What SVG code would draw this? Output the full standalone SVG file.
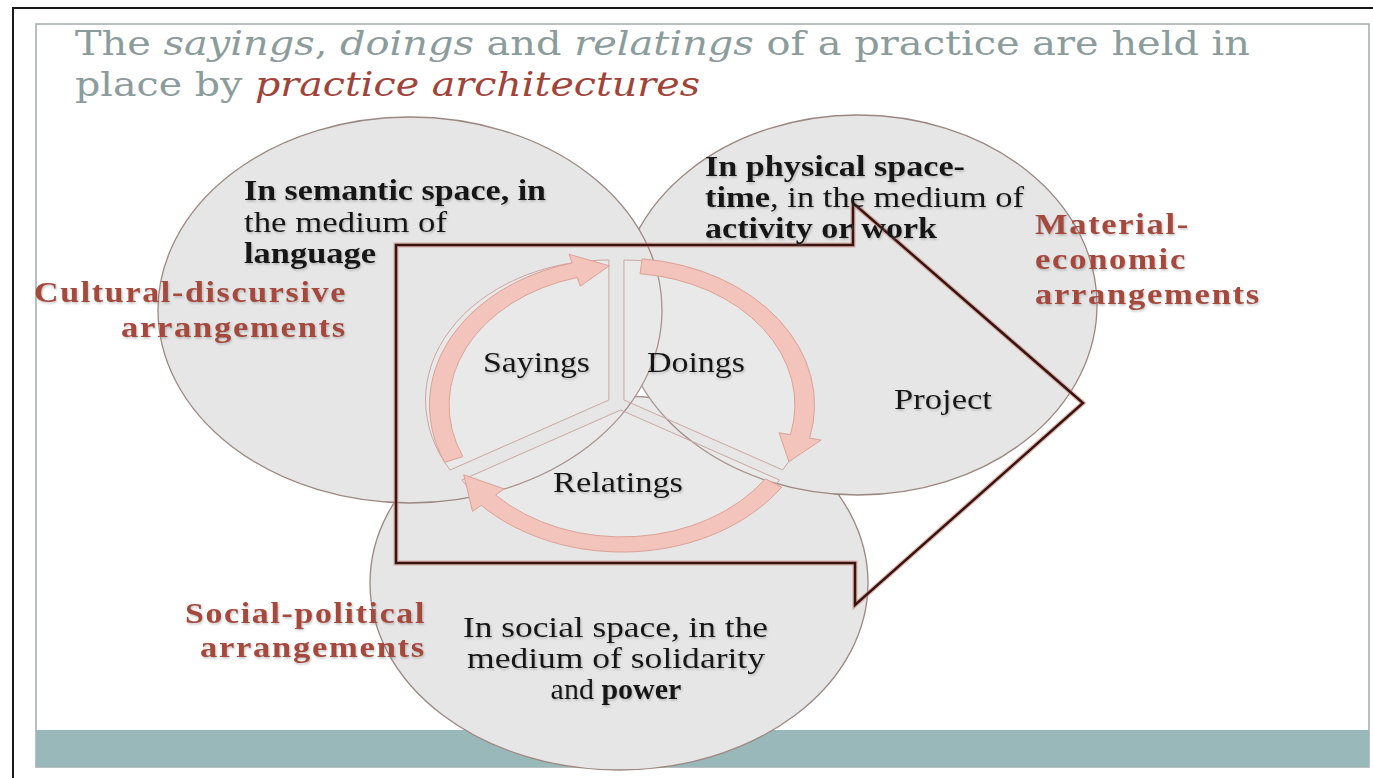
<svg xmlns="http://www.w3.org/2000/svg" width="1373" height="778" viewBox="0 0 1373 778">
<defs>
<style>
.frame{fill:none;stroke:#1a1a1a;stroke-width:2}
.inner{fill:#ffffff;stroke:#a3abab;stroke-width:1.5}
.band{fill:#98b8b9}
.circ{fill:#e6e6e6;stroke:#9d8781;stroke-width:1.3}
.wedge{fill:#ffffff;fill-opacity:0.12;stroke:#c9a7a1;stroke-width:1}
.arr{fill:#f3c4bb;stroke:#dca196;stroke-width:1}
.title{font-family:"DejaVu Serif","Liberation Serif",serif;font-size:34px;fill:#8b9c9c}
.title .it{font-style:italic}
.title .red{fill:#a2433a}
.blk{font-family:"Liberation Serif","Times New Roman",serif;font-size:30px;fill:#141414}
.b{font-weight:bold}
.lab{font-family:"Liberation Serif","Times New Roman",serif;font-size:29px;fill:#151515}
.arrl{font-family:"Liberation Serif","Times New Roman",serif;font-size:30px;font-weight:bold;letter-spacing:1.5px;fill:#a5483e}
</style>
<filter id="sh" x="-5%" y="-20%" width="110%" height="140%">
<feDropShadow dx="1" dy="1.5" stdDeviation="1" flood-color="#777" flood-opacity="0.45"/>
</filter>
</defs>

<g id="frame">
<rect class="inner" x="36" y="24" width="1333" height="743"/>
<rect class="band" x="36" y="730" width="1333" height="37"/>
<path class="frame" d="M13 778 V8 H1373"/>
</g>

<g id="title" class="title">
<text x="75" y="55" textLength="1175" lengthAdjust="spacingAndGlyphs">The <tspan class="it">sayings</tspan>, <tspan class="it">doings</tspan> and <tspan class="it">relatings</tspan> of a practice are held in</text>
<text x="75" y="96" textLength="625" lengthAdjust="spacingAndGlyphs">place by <tspan class="it red">practice architectures</tspan></text>
</g>

<g id="social-political">
<ellipse class="circ" cx="619" cy="583" rx="249" ry="187"/>
</g>
<g id="material-economic">
<ellipse class="circ" cx="858" cy="305" rx="239" ry="190"/>
</g>
<g id="cultural-discursive">
<ellipse class="circ" cx="410" cy="310" rx="252" ry="193"/>
</g>

<g id="cycle" transform="translate(622,405) scale(1.31,1)">
<g id="sayings-wedge"><path class="wedge" vector-effect="non-scaling-stroke" d="M-10,-5 L-131.2,65 A140,140 0 0 1 -10,-145 Z"/></g>
<g id="doings-wedge"><path class="wedge" vector-effect="non-scaling-stroke" d="M1.5,-5 L1.5,-145 A140,140 0 0 1 122.7,65 Z"/></g>
<g id="relatings-wedge"><path class="wedge" vector-effect="non-scaling-stroke" d="M-1,5 L120.2,75 A140,140 0 0 1 -122.2,75 Z"/></g>
<g id="connectors">
<path class="arr" vector-effect="non-scaling-stroke" d="M-135.3,57.4 A147,147 0 0 1 -38,-142 L-40.4,-150.7 L-9.7,-139.2 L-31.8,-118.8 L-34.2,-127.5 A132,132 0 0 0 -121.5,51.6 Z"/>
<path class="arr" vector-effect="non-scaling-stroke" d="M15.4,-146.2 A147,147 0 0 1 143.2,33.1 L152,35.1 L127.4,56.7 L119.9,27.7 L128.6,29.7 A132,132 0 0 0 13.8,-131.3 Z"/>
<path class="arr" vector-effect="non-scaling-stroke" d="M121.9,82.2 A147,147 0 0 1 -107.5,100.3 L-114.1,106.4 L-120.8,69.8 L-90,83.9 L-96.5,90 A132,132 0 0 0 109.4,73.8 Z"/>
</g>
</g>

<g id="project-arrow">
<path d="M396,245 H853 V203 L1083,403 L855,605 V563 H396 Z" fill="none" stroke="#c98d80" stroke-width="5" stroke-opacity="0.6"/>
<path d="M396,245 H853 V203 L1083,403 L855,605 V563 H396 Z" fill="none" stroke="#3a140f" stroke-width="2.5"/>
</g>

<g id="texts" filter="url(#sh)">
<text class="blk b" x="244" y="200" textLength="302" lengthAdjust="spacingAndGlyphs">In semantic space, in</text>
<text class="blk" x="244" y="232" textLength="203" lengthAdjust="spacingAndGlyphs">the medium of</text>
<text class="blk b" x="244" y="263" textLength="132" lengthAdjust="spacingAndGlyphs">language</text>

<text class="blk b" x="705" y="176" textLength="260" lengthAdjust="spacingAndGlyphs">In physical space-</text>
<text class="blk" x="705" y="207" textLength="319" lengthAdjust="spacingAndGlyphs"><tspan class="b">time</tspan>, in the medium of</text>
<text class="blk b" x="705" y="238" textLength="232" lengthAdjust="spacingAndGlyphs">activity or work</text>

<text class="blk" x="463" y="637" textLength="305" lengthAdjust="spacingAndGlyphs">In social space, in the</text>
<text class="blk" x="467" y="668" textLength="298" lengthAdjust="spacingAndGlyphs">medium of solidarity</text>
<text class="blk" x="616" y="699" text-anchor="middle">and <tspan class="b">power</tspan></text>

<text class="arrl" x="34" y="302" textLength="313" lengthAdjust="spacingAndGlyphs">Cultural-discursive</text>
<text class="arrl" x="121" y="337" textLength="226" lengthAdjust="spacingAndGlyphs">arrangements</text>
<text class="arrl" x="1035" y="234" textLength="155" lengthAdjust="spacingAndGlyphs">Material-</text>
<text class="arrl" x="1035" y="269" textLength="152" lengthAdjust="spacingAndGlyphs">economic</text>
<text class="arrl" x="1035" y="304" textLength="226" lengthAdjust="spacingAndGlyphs">arrangements</text>
<text class="arrl" x="185" y="623" textLength="241" lengthAdjust="spacingAndGlyphs">Social-political</text>
<text class="arrl" x="200" y="657" textLength="226" lengthAdjust="spacingAndGlyphs">arrangements</text>

<text class="lab" x="483" y="372" textLength="107" lengthAdjust="spacingAndGlyphs">Sayings</text>
<text class="lab" x="647" y="372" textLength="98" lengthAdjust="spacingAndGlyphs">Doings</text>
<text class="lab" x="553" y="492" textLength="130" lengthAdjust="spacingAndGlyphs">Relatings</text>
<text class="lab" x="894" y="409" textLength="98" lengthAdjust="spacingAndGlyphs">Project</text>
</g>
</svg>
